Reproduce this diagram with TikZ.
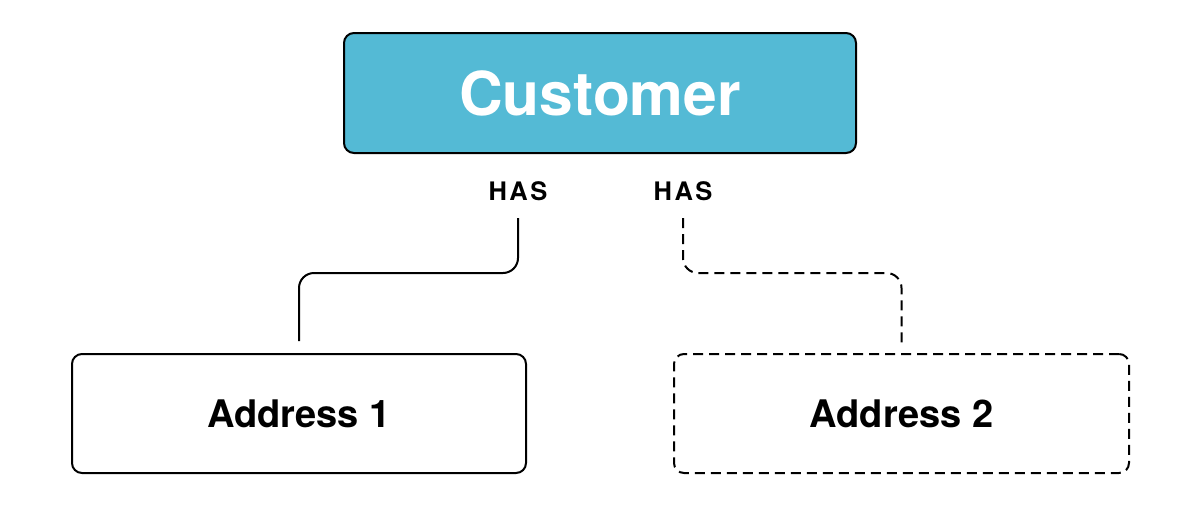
\documentclass[tikz,border=0pt]{standalone}
\usepackage{fontspec}
\setmainfont{TeX Gyre Heros}
\definecolor{custblue}{HTML}{54BAD5}
\tikzset{
  box/.style={draw=black, line width=2pt, rounded corners=10pt, inner sep=0pt},
  entity/.style={box, fill=custblue, text=white, font=\fontsize{60.5}{62}\selectfont\bfseries},
  addrbox/.style={box, fill=white, font=\fontsize{38}{40}\selectfont\bfseries},
  rel/.style={inner sep=0pt, font=\fontsize{25.5}{26}\selectfont\bfseries},
  conn/.style={line width=2pt, rounded corners=15pt},
  dashconn/.style={conn, dash pattern=on 10pt off 6pt},
}
\begin{document}
\begin{tikzpicture}[x=1pt,y=-1pt]
\useasboundingbox (0,0) rectangle (1200,509);
\node[entity, minimum width=512pt, minimum height=120pt] (cust) at (600,93) {Customer};
\node[rel, anchor=base] (has1) at (518,200.5) {H\kern2.5pt A\kern2.5pt S};
\node[rel, anchor=base] (has2) at (683,200.5) {H\kern2.5pt A\kern2.5pt S};
\node[addrbox, minimum width=454pt, minimum height=119pt] (addr1) at (299,413.5) {Address 1};
\node[addrbox, dash pattern=on 10pt off 6pt, minimum width=455pt, minimum height=119pt] (addr2) at (901.5,413.5) {Address 2};
\coordinate (bend) at (0,273);
\draw[conn] ([yshift=-17.5pt]has1.base) -- (has1.base |- bend) -- (addr1.north |- bend) -- ([yshift=12pt]addr1.north);
\draw[dashconn] ([yshift=-17.5pt]has2.base) -- (has2.base |- bend) -- (addr2.north |- bend) -- ([yshift=9pt]addr2.north);
\end{tikzpicture}
\end{document}
